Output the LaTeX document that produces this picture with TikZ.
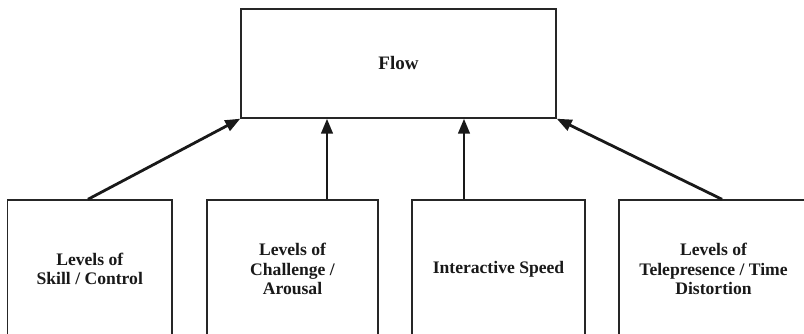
\documentclass[tikz,border=0pt]{standalone}
\usepackage{fontspec}
\setmainfont{Liberation Serif}
\usetikzlibrary{arrows.meta}
\begin{document}
\begin{tikzpicture}[x=1pt,y=1pt,
  box/.style={draw=black!85, line width=1.4pt, align=center, text=black!90,
    font=\fontsize{17.6}{19.2}\selectfont\bfseries, inner sep=0pt},
  arr/.style={draw=black!90, line width=2.8pt, -{Triangle[length=15pt,width=11.5pt]}}]
\useasboundingbox (0,0) rectangle (804,-334);
\fill[white] (0,0) rectangle (804,-334);
\clip (0,0) rectangle (804,-334);
\node[box, minimum width=315pt, minimum height=109pt,
  font=\fontsize{19}{21}\selectfont\bfseries] (flow) at (398.5,-63.5) {Flow};
\node[box, minimum width=164.5pt, minimum height=138pt] (b1) at (89.75,-269)
  {Levels of\\Skill / Control};
\node[box, minimum width=171pt, minimum height=138pt] (b2) at (292.5,-269)
  {Levels of\\Challenge /\\Arousal};
\node[box, minimum width=173pt, minimum height=138pt] (b3) at (498.5,-269)
  {Interactive Speed};
\node[box, minimum width=189pt, minimum height=138pt] (b4) at (713.5,-269)
  {Levels of\\Telepresence / Time\\Distortion};
\draw[arr] ([xshift=-1.75pt]b1.north) -- (flow.south west);
\draw[arr] ([xshift=34.5pt]b2.north) -- ([xshift=34.5pt]b2.north |- flow.south);
\draw[arr] ([xshift=-34.5pt]b3.north) -- ([xshift=-34.5pt]b3.north |- flow.south);
\draw[arr] ([xshift=8.5pt]b4.north) -- (flow.south east);
\end{tikzpicture}
\end{document}
